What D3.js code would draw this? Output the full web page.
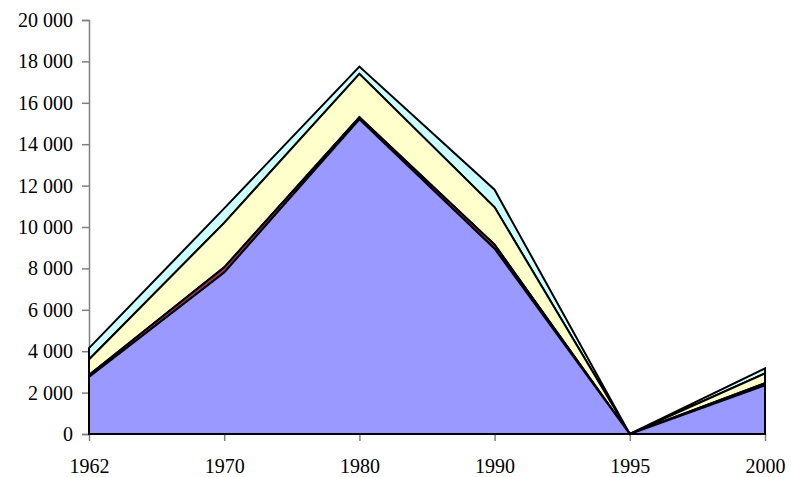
<!DOCTYPE html>
<html>
<head>
<meta charset="utf-8">
<script src="https://cdn.jsdelivr.net/npm/d3@7"></script>
<style>
  body { margin: 0; background: #fff; }
</style>
</head>
<body>
<svg id="chart" width="792" height="477"></svg>
<script>
// chart data
const years = ['1962', '1970', '1980', '1990', '1995', '2000'];
const seriesBlue = [2750, 7800, 15200, 8950, 0, 2350];
const seriesRed = [100, 250, 100, 200, 0, 100];
const seriesYellow = [750, 2150, 2100, 1800, 0, 480];
const seriesCyan = [550, 700, 350, 850, 0, 240];
const yTicks = [0, 2000, 4000, 6000, 8000, 10000, 12000, 14000, 16000, 18000, 20000];

const keys = ['blue', 'red', 'yellow', 'cyan'];
const colors = { blue: '#9999FF', red: '#993366', yellow: '#FFFFCC', cyan: '#CCFFFF' };

const rows = years.map((y, i) => ({
  year: y,
  blue: seriesBlue[i],
  red: seriesRed[i],
  yellow: seriesYellow[i],
  cyan: seriesCyan[i]
}));

const svg = d3.select('#chart');
const plotLeft = 89, plotRight = 765, plotTop = 20, plotBottom = 434;
const labelFont = '"Liberation Serif", "Times New Roman", serif';

const x = d3.scalePoint().domain(years).range([plotLeft, plotRight]);
const y = d3.scaleLinear().domain([0, 20000]).range([plotBottom, plotTop]);

const stacked = d3.stack().keys(keys)(rows);

const area = d3.area()
  .x(d => x(d.data.year))
  .y0(d => y(d[0]))
  .y1(d => y(d[1]));

// y axis (drawn under the areas)
const yAxis = d3.axisLeft(y)
  .tickValues(yTicks)
  .tickSize(7)
  .tickPadding(9)
  .tickFormat(d => d3.format(',')(d).replace(',', ' '));

const yAxisGroup = svg.append('g')
  .attr('transform', `translate(${plotLeft}, 0)`)
  .call(yAxis)
  .attr('font-family', labelFont)
  .attr('font-size', 20);
yAxisGroup.select('.domain').attr('stroke', '#808080').attr('stroke-width', 1.5);
yAxisGroup.selectAll('.tick line').attr('stroke', '#808080').attr('stroke-width', 1.5);
yAxisGroup.selectAll('.tick text').attr('fill', '#000');

// x axis
const xAxis = d3.axisBottom(x).tickSize(7).tickPadding(18);
const xAxisGroup = svg.append('g')
  .attr('transform', `translate(0, ${plotBottom})`)
  .call(xAxis)
  .attr('font-family', labelFont)
  .attr('font-size', 20);
xAxisGroup.select('.domain').remove();
xAxisGroup.selectAll('.tick line').attr('stroke', '#808080').attr('stroke-width', 1.5);
xAxisGroup.selectAll('.tick text').attr('fill', '#000');

// draw top layers first so lower borders stay on top
svg.append('g')
  .selectAll('path')
  .data(stacked.slice().reverse())
  .enter()
  .append('path')
  .attr('d', area)
  .attr('fill', d => colors[d.key])
  .attr('stroke', '#000')
  .attr('stroke-width', 2)
  .attr('stroke-linejoin', 'miter');
</script>
</body>
</html>
